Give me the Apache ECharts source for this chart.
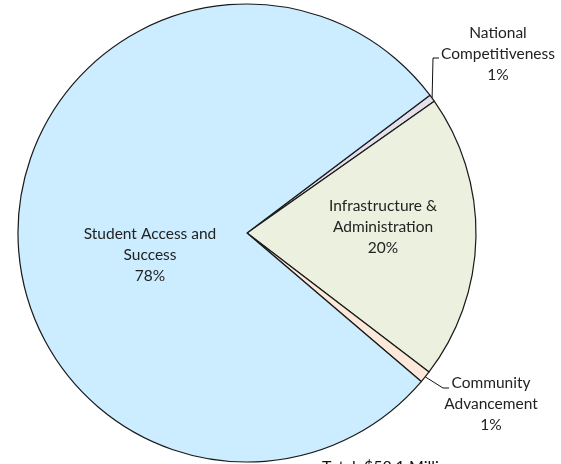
<!DOCTYPE html>
<html>
<head>
<meta charset="utf-8">
<script src="https://cdn.jsdelivr.net/npm/echarts@6/dist/echarts.min.js"></script>
<style>
  html, body { margin: 0; padding: 0; background: #fff; }
  #chart { width: 561px; height: 464px; }
</style>
</head>
<body>
<div id="chart"></div>
<script>
// Budget allocation, $ millions (clockwise from the upper right)
const categories = [
  'National\nCompetitiveness',
  'Infrastructure &\nAdministration',
  'Community\nAdvancement',
  'Student Access and\nSuccess'
];
const amounts = [0.3, 11.7, 0.5, 45.6];
const sliceColors = ['#E6E0EC', '#EBF1DE', '#FDE9D9', '#CCECFF'];
const totalLabel = 'Total: $58.1 Million';

const CX = 247, CY = 233, R = 229, START = 37;
const FONT = 'Lato, "Noto Sans", sans-serif';

const total = amounts.reduce((a, b) => a + b, 0);
// mid angle (degrees, counter-clockwise from +x) of each slice
const midAngles = [];
let acc = START;
amounts.forEach(v => {
  const span = v / total * 360;
  midAngles.push(acc - span / 2);
  acc -= span;
});
function onArc(i, rr) {
  const a = midAngles[i] * Math.PI / 180;
  return [CX + rr * Math.cos(a), CY - rr * Math.sin(a)];
}

// label placement per slice: centre of text block, optional leader elbow
const labelSpots = [
  { x: 498, y: 54, line: [[433, 58], [439, 58]] },
  { x: 383, y: 227 },
  { x: 491, y: 404, line: [[443, 388], [449, 388]] },
  { x: 150, y: 255 }
];

const chart = echarts.init(document.getElementById('chart'));
chart.setOption({
  animation: false,
  series: [{
    type: 'pie',
    center: [CX, CY],
    radius: [0, R],
    startAngle: START,
    clockwise: true,
    percentPrecision: 0,
    avoidLabelOverlap: false,
    data: categories.map((name, i) => ({
      name,
      value: amounts[i],
      itemStyle: { color: sliceColors[i] },
      label: { position: labelSpots[i].line ? 'outside' : 'inside' },
      labelLine: { show: !!labelSpots[i].line }
    })),
    itemStyle: { borderColor: '#1a1a1a', borderWidth: 1.2 },
    label: {
      show: true,
      formatter: '{b}\n{d}%',
      color: '#222',
      fontFamily: FONT,
      fontSize: 15.5,
      lineHeight: 21,
      align: 'center'
    },
    labelLine: { lineStyle: { color: '#111', width: 1 } },
    labelLayout: function (p) {
      const s = labelSpots[p.dataIndex];
      const out = { x: s.x, y: s.y, align: 'center', verticalAlign: 'middle' };
      if (s.line) {
        out.labelLinePoints = [onArc(p.dataIndex, R), s.line[0], s.line[1]];
      }
      return out;
    },
    emphasis: { disabled: true }
  }],
  graphic: [{
    type: 'text',
    left: 322,
    top: 459,
    style: {
      text: totalLabel,
      fill: '#111',
      font: '16px ' + FONT
    }
  }]
});
</script>
</body>
</html>
